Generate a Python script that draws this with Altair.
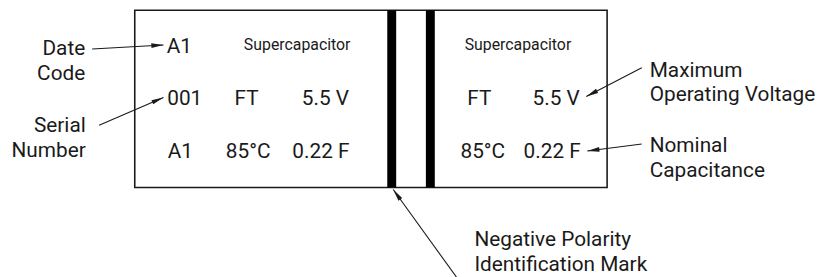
import altair as alt
import pandas as pd
import numpy as np

FONT = "Roboto"
INK = "#1a1a1a"

# outline of the capacitor label and polarity bands (pixel-like diagram coordinates)
box_x = [136]; box_x2 = [613]; box_y = [9]; box_y2 = [188]
band_x = [391, 430]; band_x2 = [400, 439]

# texts printed on the part (centered, y = baseline)
part_text = ["A1", "Supercapacitor", "Supercapacitor",
             "001", "FT", "5.5 V", "FT", "5.5 V",
             "A1", "85°C", "0.22 F", "85°C", "0.22 F"]
part_x = [181, 300, 523,
          186.5, 249, 328.5, 484, 561.5,
          182, 250.5, 324, 487.5, 557.5]
part_y = [52, 49.5, 49.5,
          105, 105, 105, 105, 105,
          158, 158, 158, 158, 158]
part_size = [21, 16, 16, 21, 21, 21, 21, 21, 21, 21, 21, 21, 21]

# callout labels (two lines each, y = first baseline)
left_text = ["Date\nCode", "Serial\nNumber"]
left_x = [86, 86.5]
left_y = [54, 132]
right_text = ["Maximum\nOperating Voltage", "Nominal\nCapacitance",
              "Negative Polarity\nIdentification Mark"]
right_x = [656, 656, 479]
right_y = [76, 152, 247]

# arrows: start -> tip
arr_x = [93, 100, 648, 648, 462]
arr_y = [48, 125, 67, 144, 280]
arr_x2 = [165, 165, 592, 593, 397]
arr_y2 = [44, 97, 96, 151, 190]

xs = alt.Scale(domain=[8, 821], nice=False, zero=False)
ys = alt.Scale(domain=[8, 269], nice=False, zero=False, reverse=True)

def X(f, **k):
    return alt.X(f, scale=xs, axis=None, **k)

def Y(f, **k):
    return alt.Y(f, scale=ys, axis=None, **k)

box = alt.Chart(pd.DataFrame({"x": box_x, "x2": box_x2, "y": box_y, "y2": box_y2})).mark_rect(
    fill="white", stroke=INK, strokeWidth=1.6
).encode(x=X("x:Q"), x2="x2:Q", y=Y("y:Q"), y2="y2:Q")

bands = alt.Chart(pd.DataFrame({"x": band_x, "x2": band_x2, "y": [9, 9], "y2": [188, 188]})).mark_rect(
    fill="black"
).encode(x=X("x:Q"), x2="x2:Q", y=Y("y:Q"), y2="y2:Q")

pdf = pd.DataFrame({"t": part_text, "x": part_x, "y": part_y, "s": part_size})
part = alt.Chart(pdf).mark_text(font=FONT, color=INK, align="center", baseline="alphabetic").encode(
    x=X("x:Q"), y=Y("y:Q"), text="t:N", size=alt.Size("s:Q", scale=None, legend=None)
)

left = alt.Chart(pd.DataFrame({"t": left_text, "x": left_x, "y": left_y})).mark_text(
    font=FONT, color=INK, align="right", baseline="alphabetic", fontSize=21,
    lineBreak="\n", lineHeight=25
).encode(x=X("x:Q"), y=Y("y:Q"), text="t:N")

right = alt.Chart(pd.DataFrame({"t": right_text, "x": right_x, "y": right_y})).mark_text(
    font=FONT, color=INK, align="left", baseline="alphabetic", fontSize=21,
    lineBreak="\n", lineHeight=25
).encode(x=X("x:Q"), y=Y("y:Q"), text="t:N")

adf = pd.DataFrame({"x": arr_x, "y": arr_y, "x2": arr_x2, "y2": arr_y2})
ang = np.degrees(np.arctan2(adf["x2"] - adf["x"], -(adf["y2"] - adf["y"]))) % 360
adf["ang"] = ang
shafts = alt.Chart(adf).mark_rule(color=INK, strokeWidth=1.1).encode(
    x=X("x:Q"), y=Y("y:Q"), x2="x2:Q", y2="y2:Q"
)
heads = alt.Chart(adf).mark_point(
    shape="M0,0 L0.38,2 L-0.38,2 Z", filled=True, color=INK, opacity=1, size=150
).encode(x=X("x2:Q"), y=Y("y2:Q"), angle=alt.Angle("ang:Q", scale=None))

chart = alt.layer(box, bands, shafts, heads, part, left, right).properties(
    width=813, height=261,
    autosize=alt.AutoSizeParams(type="none"),
    padding={"left": 0, "top": 0, "right": 8, "bottom": 8},
).configure(background="white", view=alt.ViewConfig(stroke=None))

chart.save("out.html", embed_options={"renderer": "svg", "actions": False})
